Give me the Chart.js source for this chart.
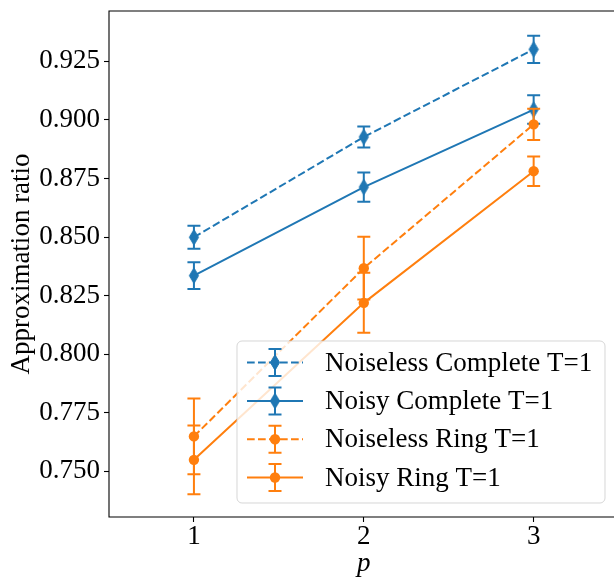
<!DOCTYPE html>
<html>
<head>
<meta charset="utf-8">
<script src="https://cdn.jsdelivr.net/npm/chart.js@4.4.1/dist/chart.umd.min.js"></script>
<style>
  html, body { margin: 0; padding: 0; background: #fff; overflow: hidden; }
  canvas { display: block; }
</style>
</head>
<body>
<canvas id="chart" width="614" height="579"></canvas>
<script>
const pValues = [1, 2, 3];
const xTicks = [1, 2, 3];
const yTicks = [0.750, 0.775, 0.800, 0.825, 0.850, 0.875, 0.900, 0.925];

const seriesLabels = ["Noiseless Complete T=1", "Noisy Complete T=1", "Noiseless Ring T=1", "Noisy Ring T=1"];

const noiselessComplete = [0.8499, 0.8927, 0.9301];
const noiselessCompleteErr = [0.0049, 0.0045, 0.0058];
const noisyComplete = [0.8335, 0.8713, 0.9044];
const noisyCompleteErr = [0.0057, 0.0062, 0.0061];
const noiselessRing = [0.7649, 0.8367, 0.8981];
const noiselessRingErr = [0.0162, 0.0134, 0.0067];
const noisyRing = [0.7549, 0.8219, 0.8781];
const noisyRingErr = [0.0147, 0.0128, 0.0063];

const BLUE = "#1f77b4";
const ORANGE = "#ff7f0e";
const FONT = "'Liberation Serif', 'Times New Roman', serif";
const FS = 27;

// thin diamond marker like matplotlib 'd'
function makeDiamond(color) {
  const c = document.createElement("canvas");
  c.width = 12; c.height = 17;
  const g = c.getContext("2d");
  g.fillStyle = color;
  g.strokeStyle = color;
  g.lineWidth = 1;
  g.beginPath();
  g.moveTo(6, 0.8);
  g.lineTo(10.6, 8.5);
  g.lineTo(6, 16.2);
  g.lineTo(1.4, 8.5);
  g.closePath();
  g.fill();
  g.stroke();
  return c;
}
const diamondBlue = makeDiamond(BLUE);

function toPoints(vals) {
  return vals.map((v, i) => ({ x: pValues[i], y: v }));
}

function makeSet(label, vals, errs, color, dashed, marker, order) {
  return {
    label,
    data: toPoints(vals),
    errors: errs,
    borderColor: color,
    backgroundColor: color,
    borderWidth: 2,
    borderDash: dashed ? [7.7, 3.3] : [],
    pointStyle: marker === "d" ? diamondBlue : "circle",
    pointRadius: 5.2,
    pointBorderWidth: 0,
    pointBackgroundColor: color,
    tension: 0,
    fill: false,
    order
  };
}

const datasets = [
  makeSet(seriesLabels[0], noiselessComplete, noiselessCompleteErr, BLUE, true, "d", 3),
  makeSet(seriesLabels[1], noisyComplete, noisyCompleteErr, BLUE, false, "d", 2),
  makeSet(seriesLabels[2], noiselessRing, noiselessRingErr, ORANGE, true, "o", 1),
  makeSet(seriesLabels[3], noisyRing, noisyRingErr, ORANGE, false, "o", 0)
];

function errBar(ctx, x, yTop, yBot, color) {
  const cap = 6.5;
  ctx.save();
  ctx.strokeStyle = color;
  ctx.lineWidth = 2;
  ctx.setLineDash([]);
  ctx.beginPath();
  ctx.moveTo(x, yTop); ctx.lineTo(x, yBot);
  ctx.moveTo(x - cap, yTop); ctx.lineTo(x + cap, yTop);
  ctx.moveTo(x - cap, yBot); ctx.lineTo(x + cap, yBot);
  ctx.stroke();
  ctx.restore();
}

const errorBars = {
  id: "errorBars",
  afterDatasetDraw(chart, args) {
    const ds = chart.data.datasets[args.index];
    const ys = chart.scales.y;
    const xs = chart.scales.x;
    ds.data.forEach((pt, i) => {
      const e = ds.errors[i];
      errBar(chart.ctx, xs.getPixelForValue(pt.x), ys.getPixelForValue(pt.y + e), ys.getPixelForValue(pt.y - e), ds.borderColor);
    });
  }
};

const frameAndTitles = {
  id: "frameAndTitles",
  afterDraw(chart) {
    const { ctx, chartArea: a } = chart;
    ctx.save();
    ctx.strokeStyle = "#000";
    ctx.lineWidth = 1.1;
    ctx.beginPath();
    ctx.moveTo(chart.width, a.top); ctx.lineTo(a.left, a.top);
    ctx.lineTo(a.left, a.bottom); ctx.lineTo(chart.width, a.bottom);
    ctx.stroke();

    ctx.fillStyle = "#000";
    ctx.font = FS + "px " + FONT;
    ctx.textAlign = "center";
    ctx.textBaseline = "middle";
    ctx.translate(22, (a.top + a.bottom) / 2);
    ctx.rotate(-Math.PI / 2);
    ctx.fillText("Approximation ratio", 0, 0);
    ctx.restore();

    ctx.save();
    ctx.fillStyle = "#000";
    ctx.font = "italic " + FS + "px " + FONT;
    ctx.textAlign = "center";
    ctx.textBaseline = "alphabetic";
    ctx.fillText("p", chart.scales.x.getPixelForValue(2), 571);
    ctx.restore();
  }
};

const boxLegend = {
  id: "boxLegend",
  afterDraw(chart) {
    const ctx = chart.ctx;
    const bx = 237, by = 341, bw = 368, bh = 162, r = 5;
    ctx.save();
    ctx.beginPath();
    ctx.roundRect(bx, by, bw, bh, r);
    ctx.fillStyle = "rgba(255,255,255,0.8)";
    ctx.fill();
    ctx.strokeStyle = "rgba(204,204,204,0.8)";
    ctx.lineWidth = 1;
    ctx.stroke();
    const rowY = [362.5, 401, 439.3, 477.5];
    chart.data.datasets.forEach((ds, i) => {
      const y = rowY[i];
      ctx.save();
      ctx.strokeStyle = ds.borderColor;
      ctx.lineWidth = 2;
      ctx.setLineDash(ds.borderDash);
      ctx.beginPath();
      ctx.moveTo(247, y); ctx.lineTo(303, y);
      ctx.stroke();
      ctx.restore();
      errBar(ctx, 275, y - 13.5, y + 13.5, ds.borderColor);
      if (ds.pointStyle === "circle") {
        ctx.fillStyle = ds.borderColor;
        ctx.beginPath();
        ctx.arc(275, y, 5.2, 0, Math.PI * 2);
        ctx.fill();
      } else {
        ctx.drawImage(ds.pointStyle, 275 - 6, y - 8.5);
      }
      ctx.fillStyle = "#000";
      ctx.font = FS + "px " + FONT;
      ctx.textAlign = "left";
      ctx.textBaseline = "middle";
      ctx.fillText(ds.label, 325, y + 1);
    });
    ctx.restore();
  }
};

new Chart(document.getElementById("chart"), {
  type: "line",
  data: { datasets },
  plugins: [errorBars, frameAndTitles, boxLegend],
  options: {
    responsive: false,
    animation: false,
    layout: { autoPadding: false, padding: { top: 11, left: 0, right: 0, bottom: 0 } },
    plugins: { legend: { display: false }, tooltip: { enabled: false } },
    scales: {
      x: {
        type: "linear",
        min: 0.5,
        max: 3.473,
        afterBuildTicks: (s) => { s.ticks = xTicks.map(v => ({ value: v })); },
        afterFit: (s) => { s.height = 62; s.paddingLeft = 0; s.paddingRight = 0; },
        grid: { drawOnChartArea: false, drawTicks: true, tickLength: 5, tickColor: "#000", tickWidth: 1.1 },
        border: { display: false },
        ticks: { color: "#000", padding: -1, maxRotation: 0, font: { family: FONT, size: FS }, callback: (v) => String(v) }
      },
      y: {
        type: "linear",
        min: 0.7305,
        max: 0.94647,
        afterBuildTicks: (s) => { s.ticks = yTicks.map(v => ({ value: v })); },
        afterFit: (s) => { s.width = 109; s.paddingTop = 0; s.paddingBottom = 0; },
        grid: { drawOnChartArea: false, drawTicks: true, tickLength: 5, tickColor: "#000", tickWidth: 1.1 },
        border: { display: false },
        ticks: { color: "#000", padding: 4, font: { family: FONT, size: FS }, callback: (v) => v.toFixed(3) }
      }
    }
  }
});
</script>
</body>
</html>
